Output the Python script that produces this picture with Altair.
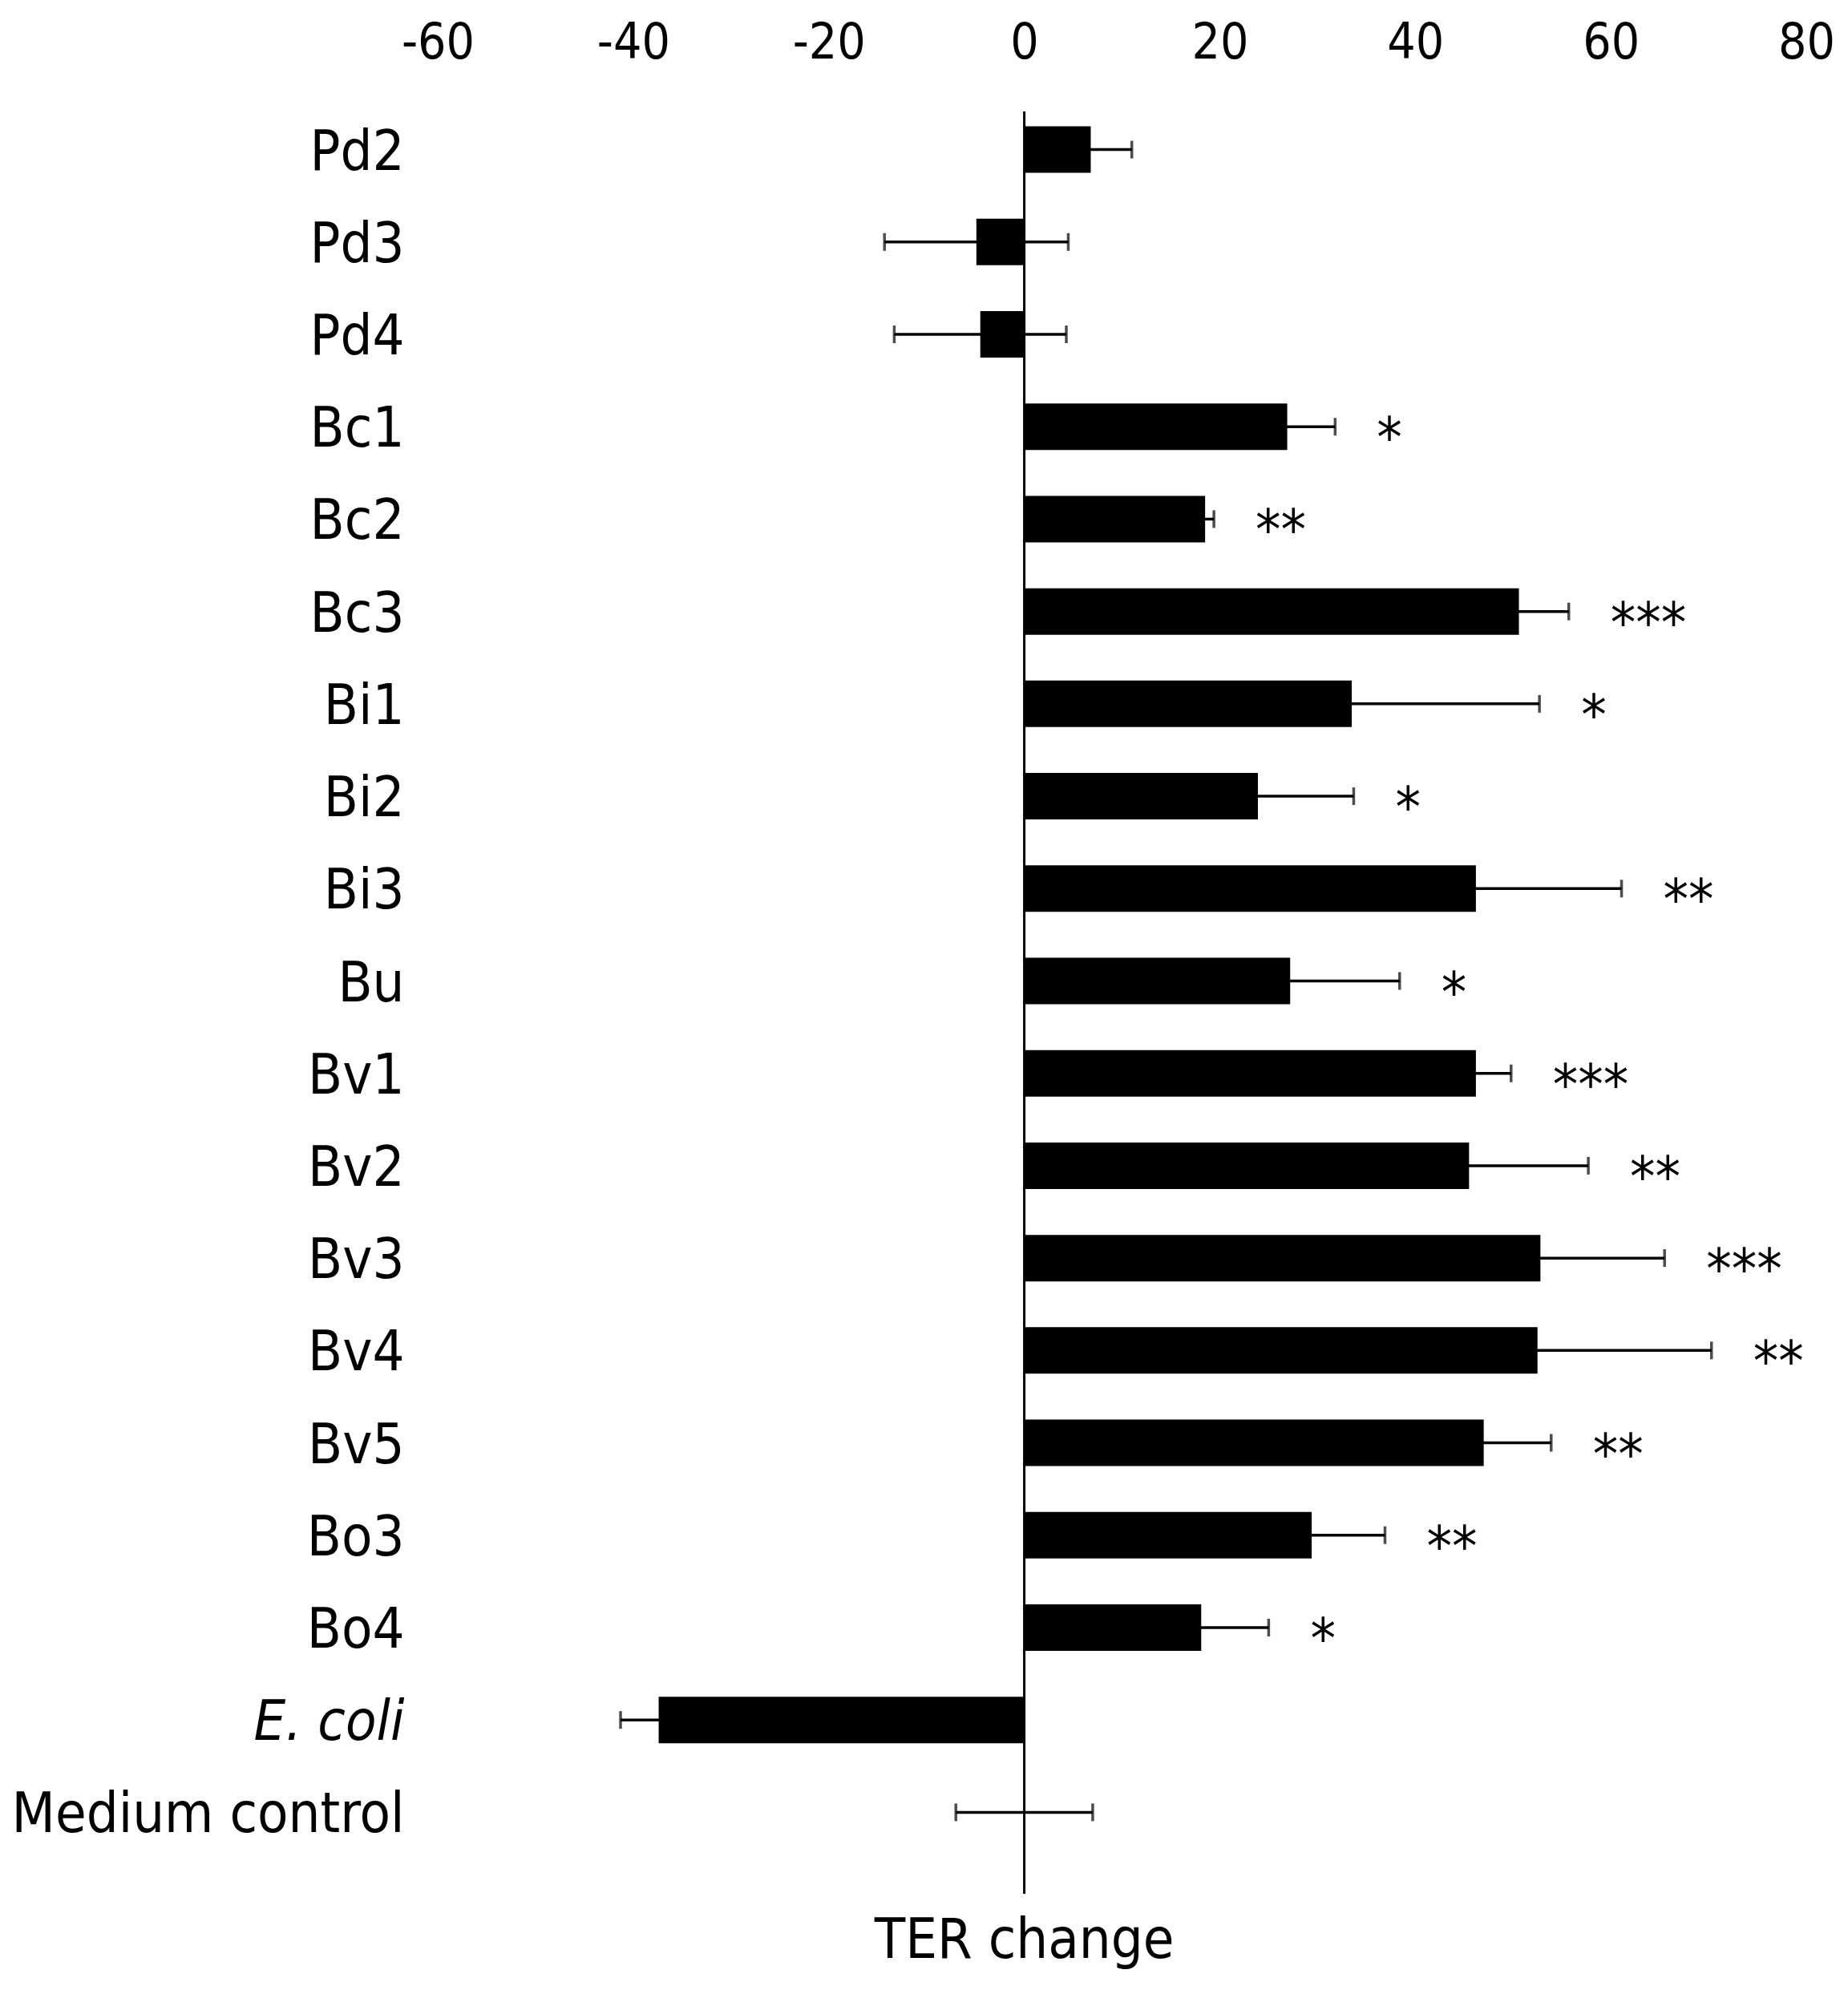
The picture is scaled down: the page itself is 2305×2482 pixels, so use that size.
import altair as alt
import pandas as pd

categories = ["Pd2", "Pd3", "Pd4", "Bc1", "Bc2", "Bc3", "Bi1", "Bi2", "Bi3", "Bu",
              "Bv1", "Bv2", "Bv3", "Bv4", "Bv5", "Bo3", "Bo4", "E. coli", "Medium control"]
means = [6.8, -4.9, -4.5, 26.9, 18.5, 50.6, 33.5, 23.9, 46.2, 27.2,
         46.2, 45.5, 52.8, 52.5, 47.0, 29.4, 18.1, -37.4, 0.0]
errors = [4.2, 9.4, 8.8, 4.9, 0.9, 5.1, 19.2, 9.8, 14.9, 11.2,
          3.6, 12.2, 12.7, 17.8, 6.9, 7.5, 6.9, 3.9, 7.0]
stars = ["", "", "", "*", "**", "***", "*", "*", "**", "*",
         "***", "**", "***", "**", "**", "**", "*", "", ""]
x_ticks = [-60, -40, -20, 0, 20, 40, 60, 80]

df = pd.DataFrame({"cat": categories, "mean": means, "err": errors, "star": stars})
df["lo"] = df["mean"] - df["err"]
df["hi"] = df["mean"] + df["err"]

FONT = "DejaVu Sans Condensed, DejaVu Sans"
W, H = 1707, 2189

xscale = alt.Scale(domain=[-60, 80], nice=False, zero=False)
yscale = alt.Scale(domain=categories, paddingInner=0, paddingOuter=0)

base = alt.Chart(df)

bars = base.mark_bar(color="black", size=58).encode(
    x=alt.X("mean:Q", scale=xscale,
            axis=alt.Axis(orient="top", values=x_ticks, domain=False, ticks=False, tickSize=0,
                          grid=False, labelFontSize=62, labelFont=FONT, labelColor="black",
                          labelExpr="replace(datum.label, '\u2212', '-')",
                          labelFlush=False, labelOverlap=False,
                          labelPadding=44, title=None)),
    x2=alt.datum(0),
    y=alt.Y("cat:N", scale=yscale, sort=categories,
            axis=alt.Axis(orient="left", domain=False, ticks=False, tickSize=0, grid=False,
                          labelFontSize=70, labelFont=FONT, labelColor="black",
                          labelPadding=42, labelLimit=2000, labelOffset=4, title=None,
                          labelFontStyle={"condition": {"test": "datum.value === 'E. coli'", "value": "italic"},
                                          "value": "normal"})),
)

err_line = base.mark_rule(color="black", strokeWidth=3.5).encode(
    x=alt.X("lo:Q", scale=xscale),
    x2="hi:Q",
    y=alt.Y("cat:N", scale=yscale, sort=categories),
)

caps = base.transform_fold(["lo", "hi"], as_=["end", "pos"]).mark_tick(
    color="black", size=22, thickness=3.5, orient="vertical"
).encode(
    x=alt.X("pos:Q", scale=xscale),
    y=alt.Y("cat:N", scale=yscale, sort=categories),
)

zero_line = alt.Chart(pd.DataFrame({"z": [0]})).mark_rule(color="black", strokeWidth=3).encode(
    x=alt.X("z:Q", scale=xscale),
    y=alt.value(10),
    y2=alt.value(H + 44),
)

star_text = base.mark_text(align="left", baseline="alphabetic", dx=52, dy=38,
                           fontSize=70, font=FONT, color="black").encode(
    x=alt.X("hi:Q", scale=xscale),
    y=alt.Y("cat:N", scale=yscale, sort=categories),
    text="star:N",
)

title_text = alt.Chart(pd.DataFrame({"t": ["TER change"], "z": [0]})).mark_text(
    align="center", baseline="alphabetic", fontSize=70, font=FONT, color="black"
).encode(
    x=alt.X("z:Q", scale=xscale),
    y=alt.value(H + 124),
    text="t:N",
)

chart = alt.layer(bars, err_line, caps, zero_line, star_text, title_text).properties(
    width=W, height=H,
    autosize=alt.AutoSizeParams(type="none"),
    padding={"left": 538, "top": 121, "right": 44, "bottom": 156},
    background="white",
).configure_view(strokeWidth=0)

chart.save("out.html", embed_options={"renderer": "svg", "actions": False})
